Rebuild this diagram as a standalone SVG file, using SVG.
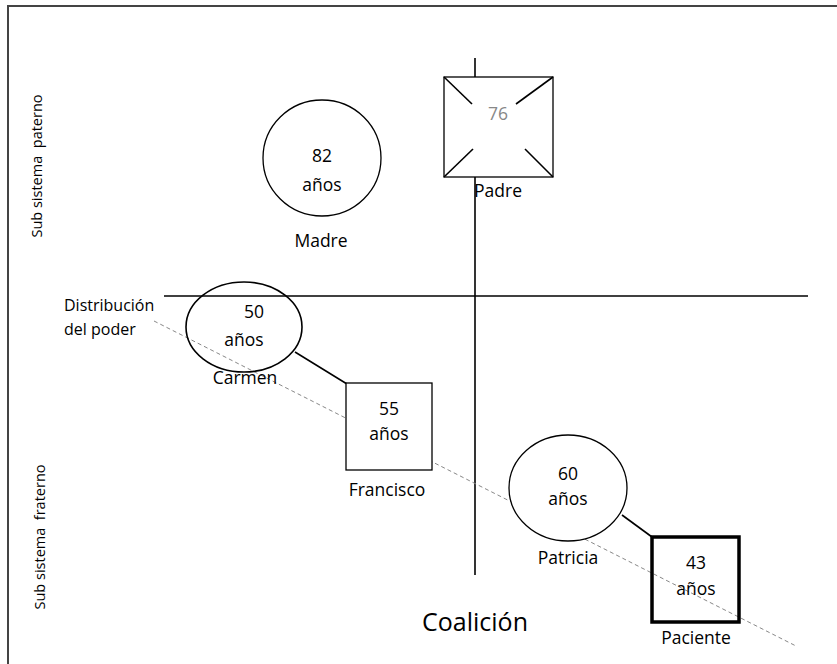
<svg xmlns="http://www.w3.org/2000/svg" width="837" height="664" viewBox="0 0 837 664">
<style>
text{font-family:"Open Sans","Noto Sans","Liberation Sans",sans-serif;fill:#000;}
.lbl{font-size:17.5px;text-anchor:middle;}
.shape{fill:#fff;stroke:#000;stroke-width:1.3;}
.ln{stroke:#000;stroke-width:1.6;fill:none;}
.side{font-size:14.5px;text-anchor:middle;}
</style>
<rect x="0" y="0" width="837" height="664" fill="#fff"/>
<rect x="8" y="6" width="840" height="670" fill="none" stroke="#444" stroke-width="2"/>
<g id="connectors">
<line class="ln" x1="475" y1="58" x2="475" y2="575"/>
<line class="ln" x1="164" y1="296" x2="808" y2="296"/>
<line x1="154" y1="321" x2="796" y2="646" stroke="#888" stroke-width="1" stroke-dasharray="4,3"/>
<line class="ln" x1="295" y1="352" x2="347" y2="384"/>
<line class="ln" x1="622" y1="515" x2="652" y2="537"/>
</g>
<g id="padre">
<rect class="shape" x="444" y="77" width="109" height="100"/>
<line class="ln" x1="444" y1="77" x2="472" y2="104"/>
<line class="ln" x1="553" y1="77" x2="516" y2="104"/>
<line class="ln" x1="444" y1="177" x2="473" y2="149"/>
<line class="ln" x1="553" y1="177" x2="525" y2="149"/>
<text class="lbl" x="498" y="120" style="fill:#888">76</text>
<text class="lbl" x="498" y="197">Padre</text>
</g>
<g id="madre">
<ellipse class="shape" cx="322" cy="158" rx="59" ry="58"/>
<text class="lbl" x="322" y="162">82</text>
<text class="lbl" x="322" y="191">años</text>
<text class="lbl" x="321" y="247">Madre</text>
</g>
<g id="carmen">
<ellipse cx="244" cy="327" rx="58" ry="45" fill="none" stroke="#000" stroke-width="1.6"/>
<text class="lbl" x="254" y="318">50</text>
<text class="lbl" x="244" y="346">años</text>
<text class="lbl" x="245" y="384">Carmen</text>
</g>
<g id="francisco">
<rect class="shape" x="346" y="383" width="86" height="87"/>
<text class="lbl" x="389" y="415">55</text>
<text class="lbl" x="389" y="440">años</text>
<text class="lbl" x="387" y="496">Francisco</text>
</g>
<g id="patricia">
<ellipse class="shape" cx="568" cy="488" rx="59" ry="53"/>
<text class="lbl" x="568" y="480">60</text>
<text class="lbl" x="568" y="505">años</text>
<text class="lbl" x="568" y="564">Patricia</text>
</g>
<g id="paciente">
<rect x="652" y="537" width="87" height="85" fill="none" stroke="#000" stroke-width="3.5"/>
<text class="lbl" x="696" y="569">43</text>
<text class="lbl" x="696" y="595">años</text>
<text class="lbl" x="696" y="644">Paciente</text>
</g>
<g id="labels">
<text x="64" y="311" style="font-size:16px">Distribución</text>
<text x="64" y="335" style="font-size:16px">del poder</text>
<text x="475" y="631" style="font-size:25px;text-anchor:middle">Coalición</text>
<text class="side" transform="translate(42,166) rotate(-90)" xml:space="preserve">Sub sistema  paterno</text>
<text class="side" transform="translate(45,537) rotate(-90)" xml:space="preserve">Sub sistema  fraterno</text>
</g>
</svg>
